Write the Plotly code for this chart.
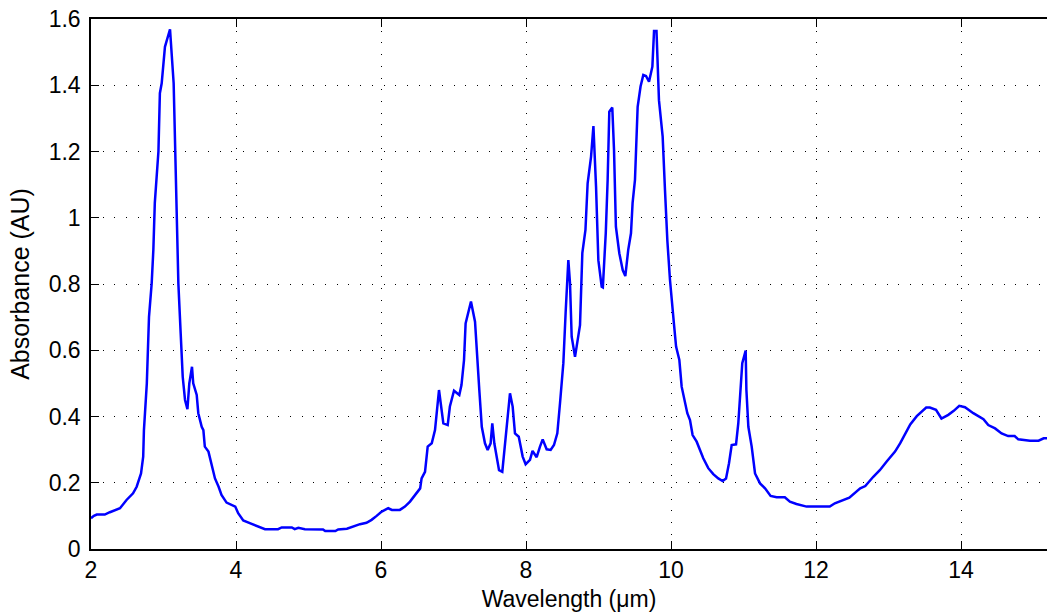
import plotly.graph_objects as go

wavelength = [
    2.00, 2.04, 2.08, 2.19, 2.26, 2.33, 2.40, 2.49, 2.58, 2.63, 2.69, 2.72, 2.73, 2.77, 2.79,
    2.80, 2.837, 2.86, 2.88, 2.93, 2.95, 2.975, 3.02, 3.09, 3.14, 3.16, 3.18, 3.205, 3.237,
    3.265, 3.297, 3.33, 3.356, 3.393, 3.41, 3.458, 3.48, 3.527, 3.55, 3.57, 3.62, 3.66, 3.71,
    3.76, 3.80, 3.87, 3.99, 4.03, 4.10, 4.19, 4.29, 4.40, 4.58, 4.63, 4.77, 4.81, 4.86, 4.95,
    5.20, 5.23, 5.37, 5.41, 5.53, 5.60, 5.71, 5.80, 5.87, 5.94, 6.01, 6.10, 6.15, 6.26, 6.33,
    6.40, 6.48, 6.54, 6.56, 6.607, 6.644, 6.70, 6.745, 6.80, 6.86, 6.92, 6.95, 7.007, 7.08,
    7.11, 7.145, 7.167, 7.241, 7.297, 7.356, 7.39, 7.434, 7.471, 7.512, 7.535, 7.563, 7.628,
    7.673, 7.71, 7.779, 7.816, 7.848, 7.90, 7.954, 7.995, 8.055, 8.09, 8.147, 8.193, 8.23,
    8.285, 8.34, 8.386, 8.432, 8.469, 8.515, 8.548, 8.584, 8.607, 8.63, 8.676, 8.745, 8.777,
    8.82, 8.85, 8.897, 8.93, 8.966, 8.998, 9.044, 9.06, 9.10, 9.126, 9.149, 9.19, 9.214, 9.24,
    9.287, 9.334, 9.37, 9.41, 9.448, 9.47, 9.503, 9.54, 9.58, 9.618, 9.655, 9.697, 9.743,
    9.766, 9.80, 9.834, 9.885, 9.917, 9.95, 9.986, 10.01, 10.04, 10.07, 10.115, 10.147,
    10.193, 10.225, 10.262, 10.298, 10.354, 10.39, 10.445, 10.514, 10.583, 10.652, 10.712,
    10.759, 10.80, 10.837, 10.897, 10.928, 10.952, 10.983, 11.03, 11.04, 11.067, 11.113,
    11.159, 11.228, 11.297, 11.374, 11.457, 11.57, 11.64, 11.73, 11.87, 12.19, 12.26, 12.38,
    12.46, 12.61, 12.68, 12.79, 12.88, 12.975, 13.09, 13.16, 13.23, 13.30, 13.39, 13.52,
    13.57, 13.655, 13.73, 13.825, 13.90, 13.976, 14.055, 14.17, 14.31, 14.376, 14.47, 14.56,
    14.65, 14.74, 14.79, 14.95, 15.07, 15.14, 15.19,
]

absorbance = [
    0.093, 0.100, 0.104, 0.104, 0.111, 0.118, 0.123, 0.148, 0.168, 0.188, 0.228, 0.279, 0.359, 0.50, 0.601,
    0.701, 0.802, 0.903, 1.044, 1.20, 1.376, 1.406, 1.516, 1.569, 1.406, 1.20, 1.003, 0.802, 0.651,
    0.52, 0.45, 0.422, 0.50, 0.55, 0.50, 0.465, 0.41, 0.369, 0.359, 0.309, 0.294, 0.259, 0.213,
    0.188, 0.163, 0.14, 0.128, 0.108, 0.086, 0.078, 0.069, 0.060, 0.060, 0.065, 0.065, 0.060, 0.064, 0.060,
    0.059, 0.054, 0.054, 0.059, 0.061, 0.067, 0.075, 0.079, 0.088, 0.100, 0.113, 0.123, 0.118, 0.118, 0.128,
    0.143, 0.166, 0.183, 0.213, 0.233, 0.309, 0.319, 0.359, 0.48, 0.379, 0.374, 0.43, 0.478, 0.465,
    0.495, 0.57, 0.681, 0.747, 0.686, 0.48, 0.369, 0.319, 0.299, 0.319, 0.379, 0.319, 0.238,
    0.233, 0.309, 0.47, 0.43, 0.349, 0.339, 0.279, 0.256, 0.269, 0.296, 0.277, 0.309, 0.331,
    0.301, 0.299, 0.314, 0.349, 0.44, 0.561, 0.72, 0.872, 0.802, 0.641, 0.58, 0.676, 0.893,
    0.963, 1.104, 1.184, 1.277, 1.094, 0.872, 0.792, 0.79, 0.953, 1.114, 1.32, 1.333, 1.205, 0.973,
    0.893, 0.842, 0.824, 0.903, 0.953, 1.044, 1.114, 1.335, 1.396, 1.431, 1.428, 1.411, 1.456,
    1.564, 1.564, 1.355, 1.245, 1.084, 0.93, 0.812, 0.742, 0.681, 0.611, 0.571, 0.49,
    0.44, 0.41, 0.389, 0.344, 0.324, 0.304, 0.274, 0.244, 0.226, 0.213, 0.205,
    0.213, 0.259, 0.314, 0.316, 0.379, 0.45, 0.561, 0.599, 0.48, 0.369, 0.309,
    0.228, 0.198, 0.183, 0.16, 0.156, 0.156, 0.143, 0.136, 0.128, 0.128, 0.138, 0.148,
    0.155, 0.183, 0.19, 0.218, 0.238, 0.264, 0.294, 0.319, 0.349, 0.376, 0.401, 0.427,
    0.427, 0.42, 0.394, 0.405, 0.417, 0.432, 0.428, 0.41, 0.392, 0.374, 0.364, 0.349,
    0.341, 0.341, 0.331, 0.327, 0.327, 0.334, 0.334,
]

x_ticks = [2, 4, 6, 8, 10, 12, 14]
x_tick_labels = ["2", "4", "6", "8", "10", "12", "14"]
y_ticks = [0, 0.2, 0.4, 0.6, 0.8, 1.0, 1.2, 1.4, 1.6]
y_tick_labels = ["0", "0.2", "0.4", "0.6", "0.8", "1", "1.2", "1.4", "1.6"]

fig = go.Figure()
fig.add_trace(go.Scatter(
    x=wavelength, y=absorbance, mode="lines",
    line=dict(color="#0000FF", width=2.5),
    showlegend=False,
))

family = "Liberation Sans, Arial, Helvetica, sans-serif"
tick_font = dict(family=family, size=23, color="black")
xtitle_font = dict(family=family, size=23, color="black")
ytitle_font = dict(family=family, size=25, color="black")

fig.update_layout(
    width=1047, height=613,
    margin=dict(l=91, r=0, t=19, b=64),
    paper_bgcolor="white", plot_bgcolor="white",
    font=tick_font,
    xaxis=dict(
        range=[2, 2 + 956 / 72.5],
        tickmode="array", tickvals=x_ticks, ticktext=x_tick_labels,
        ticks="inside", ticklen=8, tickwidth=1, tickcolor="black",
        showline=True, linecolor="black", linewidth=1.5, mirror="ticks",
        showgrid=True, gridcolor="black", gridwidth=1, griddash="1px,10.7px",
        zeroline=False,
        title=dict(text="Wavelength (\u03bcm)", font=xtitle_font, standoff=9),
        tickfont=tick_font,
        automargin=False,
    ),
    yaxis=dict(
        range=[0, 1.6],
        tickmode="array", tickvals=y_ticks, ticktext=y_tick_labels,
        ticks="inside", ticklen=8, tickwidth=1, tickcolor="black",
        showline=True, linecolor="black", linewidth=1.5, mirror=False,
        showgrid=True, gridcolor="black", gridwidth=1, griddash="1px,10.7px",
        zeroline=False,
        ticklabelstandoff=4,
        title=dict(text="Absorbance (AU)", font=ytitle_font, standoff=12),
        tickfont=tick_font,
        automargin=False,
    ),
)

fig.write_html("out.html")
